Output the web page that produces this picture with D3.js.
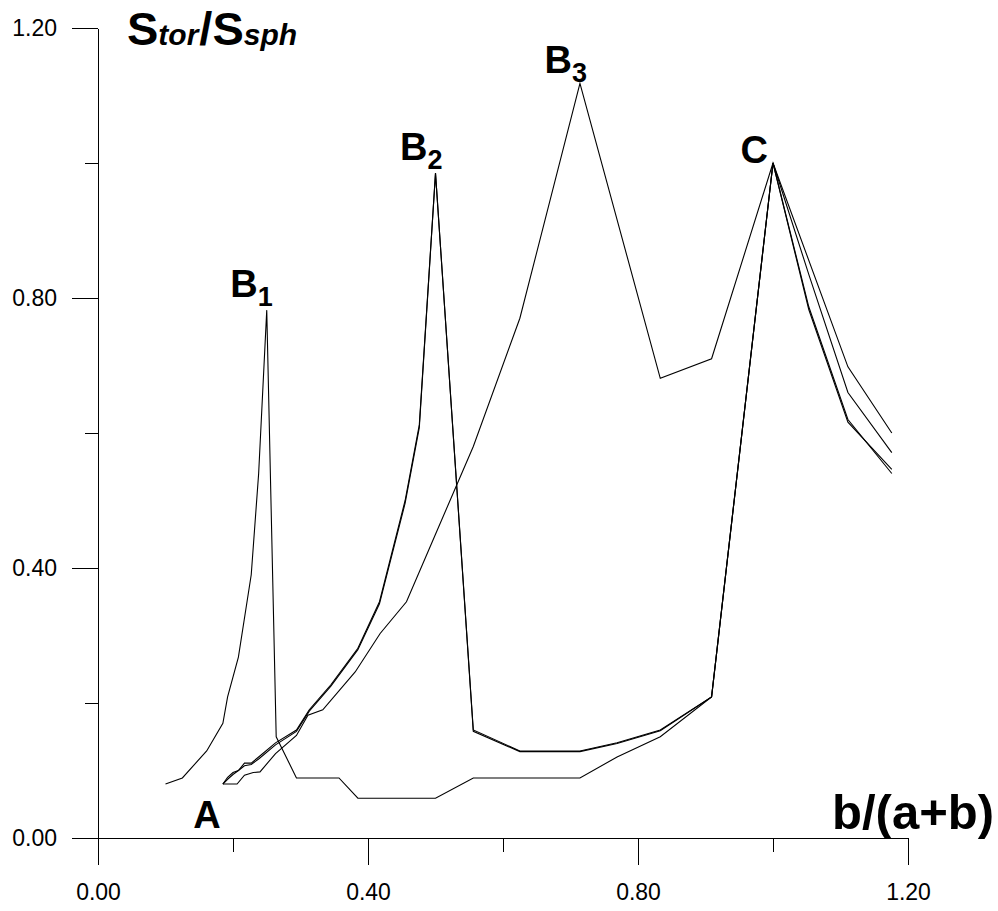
<!DOCTYPE html>
<html>
<head>
<meta charset="utf-8">
<title>Stor/Ssph vs b/(a+b)</title>
<script src="https://d3js.org/d3.v7.min.js"></script>
<style>
  body { margin: 0; background: #fff; }
  svg { display: block; font-family: "Liberation Sans", Arial, sans-serif; }
  .axis path, .axis line { stroke: #000; stroke-width: 1; shape-rendering: crispEdges; }
  .axis text { font-size: 23px; fill: #000; font-family: "Liberation Sans", Arial, sans-serif; }
  .curve { fill: none; stroke: #000; stroke-width: 1.1; stroke-linejoin: miter; }
  .lbl { font-weight: bold; fill: #000; }
</style>
</head>
<body>
<svg id="chart" width="998" height="911"></svg>
<script>
// tick values
const majorTicks = [0, 0.4, 0.8, 1.2];
const minorTicks = [0.2, 0.6, 1.0];

// curve through peak B1
const xB1 = [0.100,0.125,0.161,0.185,0.192,0.208,0.227,0.238,0.250,0.264,0.294,0.357,0.385,0.500,0.556,0.714,0.769,0.833,0.909,1.000,1.053,1.111,1.176];
const yB1 = [0.080,0.089,0.129,0.170,0.209,0.268,0.390,0.540,0.782,0.150,0.089,0.089,0.059,0.059,0.089,0.089,0.120,0.150,0.209,1.000,0.835,0.660,0.571];

// two almost identical curves through peak B2
const xB2 = [0.185,0.192,0.200,0.208,0.217,0.227,0.238,0.263,0.294,0.313,0.345,0.385,0.417,0.455,0.476,0.500,0.556,0.625,0.714,0.769,0.833,0.909,1.000,1.053,1.111,1.176];
const yB2a = [0.080,0.090,0.097,0.100,0.111,0.111,0.120,0.141,0.160,0.190,0.227,0.281,0.350,0.500,0.612,0.985,0.160,0.129,0.129,0.141,0.160,0.209,1.000,0.787,0.620,0.540];
const yB2b = [0.080,0.087,0.094,0.100,0.107,0.109,0.117,0.138,0.158,0.188,0.225,0.279,0.347,0.496,0.608,0.985,0.158,0.128,0.128,0.140,0.159,0.209,1.000,0.783,0.616,0.546];

// curve through peak B3
const xB3 = [0.185,0.206,0.217,0.230,0.240,0.263,0.294,0.311,0.333,0.381,0.418,0.457,0.500,0.556,0.625,0.714,0.833,0.909,1.000,1.111,1.176];
const yB3 = [0.080,0.080,0.093,0.097,0.098,0.125,0.152,0.182,0.190,0.246,0.303,0.350,0.450,0.580,0.770,1.118,0.681,0.710,1.000,0.698,0.600];

const svg = d3.select("#chart");

const x = d3.scaleLinear().domain([0, 1.2]).range([98, 908]);
const y = d3.scaleLinear().domain([0, 1.2]).range([838, 28]);

// axes: major ticks with labels, then short minor ticks
svg.append("g").attr("class", "axis")
  .attr("transform", "translate(0," + y(0) + ")")
  .call(d3.axisBottom(x).tickValues(majorTicks).tickSize(27).tickSizeOuter(0)
    .tickPadding(19).tickFormat(d3.format(".2f")));
svg.append("g").attr("class", "axis")
  .attr("transform", "translate(0," + y(0) + ")")
  .call(d3.axisBottom(x).tickValues(minorTicks).tickSize(14).tickSizeOuter(0).tickFormat(""));

svg.append("g").attr("class", "axis")
  .attr("transform", "translate(" + x(0) + ",0)")
  .call(d3.axisLeft(y).tickValues(majorTicks).tickSize(26).tickSizeOuter(0)
    .tickPadding(15).tickFormat(d3.format(".2f")));
svg.append("g").attr("class", "axis")
  .attr("transform", "translate(" + x(0) + ",0)")
  .call(d3.axisLeft(y).tickValues(minorTicks).tickSize(13).tickSizeOuter(0).tickFormat(""));

// data lines
const line = d3.line().x(d => x(d[0])).y(d => y(d[1]));
const series = [
  d3.zip(xB1, yB1),
  d3.zip(xB2, yB2a),
  d3.zip(xB2, yB2b),
  d3.zip(xB3, yB3)
];
svg.append("g").selectAll("path").data(series).join("path")
  .attr("class", "curve")
  .attr("d", line);

// point labels
function peakLabel(main, sub, px, py, anchor, dx, dy) {
  const t = svg.append("text").attr("class", "lbl")
    .attr("x", x(px) + dx).attr("y", y(py) + dy)
    .attr("text-anchor", anchor).style("font-size", "38px");
  t.append("tspan").text(main);
  if (sub) t.append("tspan").attr("dy", 9).style("font-size", "27px").text(sub);
}
peakLabel("B", "1", xB1[8], yB1[8], "end", 6, -13);
peakLabel("B", "2", xB2[15], yB2a[15], "end", 7, -13);
peakLabel("B", "3", xB3[15], yB3[15], "end", 7, -10);
peakLabel("C", null, 1.0, 1.0, "end", -5, 0);
peakLabel("A", null, xB2[0], 0, "middle", -16, -10);

// axis titles
const yt = svg.append("text").attr("class", "lbl").attr("x", 127).attr("y", 45);
yt.append("tspan").style("font-size", "47px").text("S");
yt.append("tspan").style("font-size", "30px").style("font-style", "italic").text("tor");
yt.append("tspan").style("font-size", "47px").attr("dx", 1).text("/");
yt.append("tspan").style("font-size", "47px").text("S");
yt.append("tspan").style("font-size", "30px").style("font-style", "italic").text("sph");

svg.append("text").attr("class", "lbl")
  .attr("x", 994).attr("y", 829)
  .attr("text-anchor", "end").style("font-size", "49px")
  .text("b/(a+b)");
</script>
</body>
</html>
